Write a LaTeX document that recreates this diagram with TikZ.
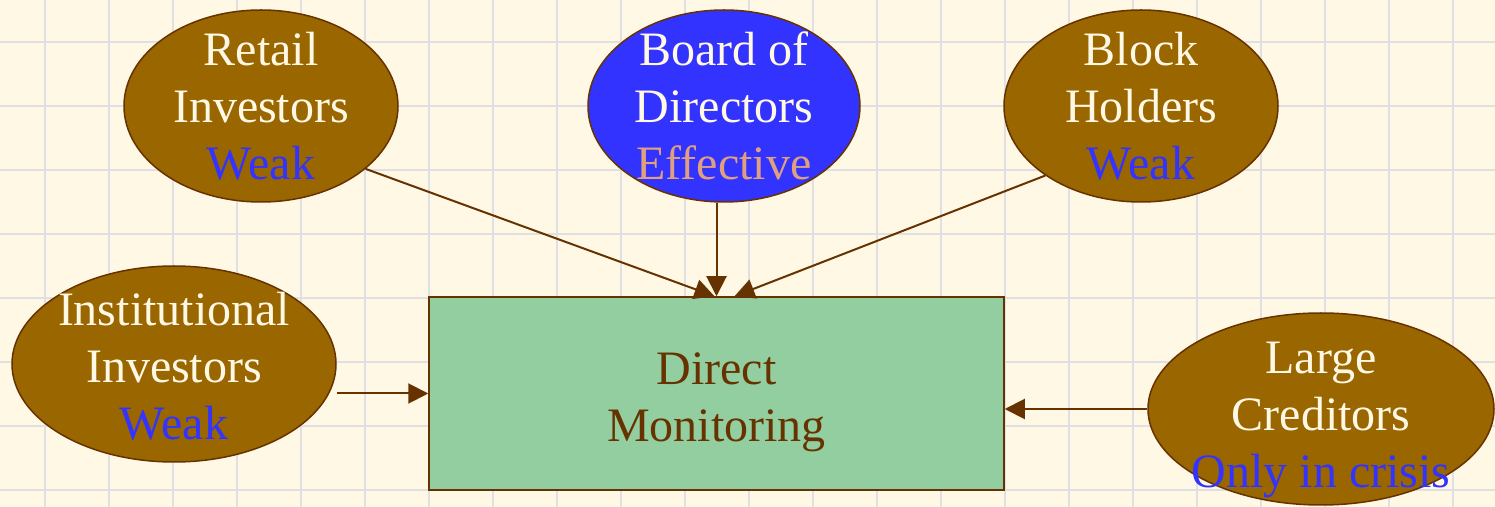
\documentclass[tikz,border=0pt]{standalone}
\usepackage{fontspec}
\setmainfont{Liberation Serif}
\definecolor{PaperCream} {RGB}{255,248,229}
\definecolor{GridGray}   {RGB}{224,224,228}
\definecolor{PartyBrown} {RGB}{153,102,0}
\definecolor{EdgeBrown}  {RGB}{102,51,0}
\definecolor{BoardBlue}  {RGB}{51,51,255}
\definecolor{WeakBlue}   {RGB}{51,51,255}
\definecolor{GoodPeach}  {RGB}{224,160,128}
\definecolor{MonitorGreen}{RGB}{146,206,160}
\usetikzlibrary{arrows.meta,shapes.geometric}
% push a centred block of lines down inside its node
\newcommand\dropby[2]{\raisebox{0pt}[\dimexpr\height+#1\relax]{\begin{tabular}{@{}c@{}}#2\end{tabular}}}

\begin{document}
\begin{tikzpicture}[x=0.5pt,y=-0.5pt,
    every node/.style={font=\fontsize{24}{28.5}\selectfont},
    party/.style={ellipse,draw=EdgeBrown,line width=0.75pt,fill=PartyBrown,
                  inner xsep=-20pt,inner ysep=-16pt,text=PaperCream,align=center},
    link/.style={-{Triangle[length=10pt,width=10pt]},EdgeBrown,line width=1pt}]
  \useasboundingbox (0,0) rectangle (1495,507);
  % paper and grid
  \fill[PaperCream] (0,0) rectangle (1495,507);
  \foreach \x in {45,109,...,1495}
    \draw[GridGray,line width=1.4pt] (\x,0) -- (\x,507);
  \foreach \y in {42,106,...,507}
    \draw[GridGray,line width=1.4pt] (0,\y) -- (1495,\y);

  % the monitors
  \node[party,minimum width=137pt,minimum height=96pt] (R) at (261,106)
    {Retail\\Investors\\\textcolor{WeakBlue}{Weak}};
  \node[party,fill=BoardBlue,minimum width=136pt,minimum height=96pt] (B) at (724,106)
    {Board of\\Directors\\\textcolor{GoodPeach}{Effective}};
  \node[party,minimum width=137pt,minimum height=96pt] (H) at (1141,106)
    {Block\\Holders\\\textcolor{WeakBlue}{Weak}};
  \node[party,minimum width=162pt,minimum height=98pt] (I) at (174,364)
    {\dropby{7pt}{Institutional\\Investors\\\textcolor{WeakBlue}{Weak}}};
  \node[party,minimum width=173pt,minimum height=96pt] (C) at (1321,409)
    {\dropby{10pt}{Large\\Creditors\\\textcolor{WeakBlue}{Only in crisis}}};

  \node[draw=EdgeBrown,line width=0.75pt,fill=MonitorGreen,text=EdgeBrown,
        minimum width=287.5pt,minimum height=96.5pt] (M) at (716.5,393.5)
    {\dropby{8pt}{Direct\\Monitoring}};

  % arrows into the box
  \draw[link] (R.-31.6) -- ([xshift=-1pt]M.north);
  \draw[link] (B.south -| M.north) -- (M.north);
  \draw[link] (H.216) -- ([xshift=9pt]M.north);
  \draw[link] (I.east |- M.west) -- (M.west);
  \draw[link] (C.west) -- (C.west -| M.east);
\end{tikzpicture}
\end{document}
